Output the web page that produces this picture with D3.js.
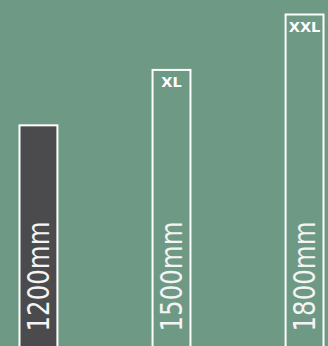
<!DOCTYPE html>
<html>
<head>
<meta charset="utf-8">
<script src="https://cdn.jsdelivr.net/npm/d3@7"></script>
<style>
  html, body { margin: 0; padding: 0; background: #6e9984; }
  svg { display: block; }
</style>
</head>
<body>
<div id="chart"></div>
<script>
var sizes = ["L", "XL", "XXL"]
var lengths = [1200, 1500, 1800]
var tags = ["", "XL", "XXL"]
var fills = ["#4b4b4d", "none", "none"]

var width = 328, height = 346

var svg = d3.select("#chart").append("svg")
  .attr("width", width)
  .attr("height", height)

svg.append("rect")
  .attr("width", width)
  .attr("height", height)
  .attr("fill", "#6e9984")

var x = d3.scaleBand()
  .domain(sizes)
  .range([18.5, 324.5])
  .paddingInner(0.7)

var y = d3.scaleLinear()
  .domain([0, 1800])
  .range([height, 13.5])

var data = sizes.map((s, i) => ({size: s, len: lengths[i], tag: tags[i], fill: fills[i]}))

var bars = svg.selectAll("g.bar")
  .data(data)
  .enter().append("g")
  .attr("class", "bar")

bars.append("rect")
  .attr("x", d => x(d.size) + 1)
  .attr("y", d => y(d.len) + 1)
  .attr("width", x.bandwidth() - 2)
  .attr("height", d => height - y(d.len) + 4)
  .attr("fill", d => d.fill)
  .attr("stroke", "#fff")
  .attr("stroke-width", 2)

// size tag at top of bar
bars.append("text")
  .attr("x", d => x(d.size) + x.bandwidth() / 2)
  .attr("y", d => y(d.len) + 18.5)
  .attr("text-anchor", "middle")
  .attr("font-family", "DejaVu Sans")
  .attr("font-weight", "bold")
  .attr("font-size", 14.5)
  .attr("fill", "#fff")
  .text(d => d.tag)

// rotated length label
bars.append("text")
  .attr("transform", d => "translate(" + (x(d.size) + x.bandwidth() / 2 + 10.8) + "," + (height - 14.5) + ") rotate(-90)")
  .attr("font-family", "DejaVu Sans Condensed")
  .attr("font-size", 29.5)
  .attr("textLength", 110)
  .attr("lengthAdjust", "spacingAndGlyphs")
  .attr("fill", "#f4f4f4")
  .text(d => d.len + "mm")
</script>
</body>
</html>
